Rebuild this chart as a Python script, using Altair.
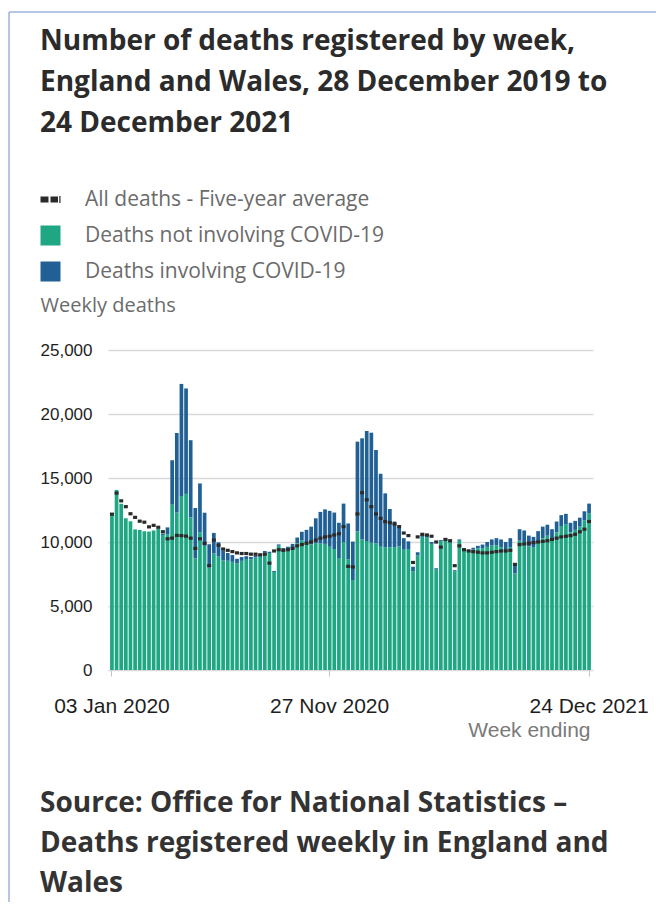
import altair as alt
import pandas as pd

# ---- data -----------------------------------------------------------------
week_ending = pd.date_range("2020-01-03", periods=104, freq="7D").strftime("%d %b %Y").tolist()

not_covid = [
    12254, 14058, 12990, 11856, 11612, 10986, 10944, 10841, 10816, 10895,
    11014, 10542, 10602, 12912, 12303, 13593, 13760, 11918, 8727, 10763,
    9699, 8002, 9121, 8862, 8556, 8534, 8447, 8324, 8528, 8674,
    8638, 8794, 8861, 9162, 9139, 7661, 9712, 9384, 9419, 9529,
    9912, 10130, 9972, 9821, 9913, 9884, 9853, 9630, 9450, 8750,
    10000, 8650, 7030, 10840, 10200, 10070, 9940, 9890, 9630, 9600,
    9580, 9600, 9650, 9400, 9450, 7720, 8950, 10400, 10380, 9850,
    7840, 10050, 10200, 9950, 7710, 10100, 9400, 9280, 9400, 9500,
    9520, 9620, 9720, 9750, 9600, 9350, 9600, 7550, 10100, 10000,
    9650, 9600, 10000, 10300, 10500, 10200, 10750, 11250, 11400, 10750,
    10950, 11200, 11700, 12250,
]

covid = [
    0, 0, 0, 0, 0, 0, 0, 0, 0, 0,
    5, 103, 539, 3475, 6213, 8758, 8237, 6035, 3930, 3810,
    2589, 1822, 1588, 1114, 783, 606, 532, 366, 295, 217,
    193, 152, 139, 138, 101, 78, 99, 139, 215, 321,
    438, 670, 978, 1379, 1937, 2466, 2697, 2800, 2850, 2750,
    3000, 2800, 3000, 7000, 7900, 8600, 8600, 7300, 5700, 4200,
    3000, 2000, 1500, 900, 600, 350, 250, 200, 170, 150,
    110, 100, 100, 100, 90, 100, 100, 120, 150, 200,
    280, 380, 480, 550, 600, 650, 700, 650, 900, 900,
    850, 800, 850, 900, 850, 800, 850, 850, 800, 750,
    700, 700, 700, 750,
]

five_year_avg = [
    12175, 13822, 13216, 12760, 12206, 11925, 11627, 11548, 11183, 11300,
    11150, 10800, 10250, 10305, 10520, 10497, 10458, 10300, 9500, 10250,
    9900, 8150, 10150, 9750, 9450, 9350, 9250, 9150, 9100, 9100,
    9050, 9050, 9000, 9050, 8350, 9300, 9400, 9350, 9400, 9500,
    9700, 9800, 9900, 10000, 10150, 10300, 10400, 10450, 10550, 10650,
    11200, 8100, 8050, 12190, 13850, 13300, 12760, 12190, 11850, 11590,
    11510, 11410, 11200, 10700, 10500, 8400, 10400, 10600, 10550, 10450,
    10000, 9600, 10200, 10100, 8150, 9700, 9400, 9300, 9250, 9200,
    9150, 9150, 9200, 9250, 9300, 9300, 9350, 8250, 9800, 9850,
    9900, 9950, 10000, 10050, 10100, 10200, 10300, 10400, 10450, 10500,
    10600, 10800, 11000, 11600,
]

label_not = "Deaths not involving COVID-19"
label_cov = "Deaths involving COVID-19"
label_avg = "All deaths - Five-year average"
x_ticks = ["03 Jan 2020", "27 Nov 2020", "24 Dec 2021"]
y_ticks = [0, 5000, 10000, 15000, 20000, 25000]

title_lines = [
    "Number of deaths registered by week,",
    "England and Wales, 28 December 2019 to",
    "24 December 2021",
]
source_lines = [
    "Source: Office for National Statistics \u2013",
    "Deaths registered weekly in England and",
    "Wales",
]

# ---- tables ----------------------------------------------------------------
bar_rows = []
for w, a, b in zip(week_ending, not_covid, covid):
    bar_rows.append({"week": w, "series": label_not, "deaths": a, "ord": 0})
    bar_rows.append({"week": w, "series": label_cov, "deaths": b, "ord": 1})
bar_df = pd.DataFrame(bar_rows)
avg_df = pd.DataFrame({"week": week_ending, "avg": five_year_avg, "label": label_avg})
title_df = pd.DataFrame({"t": ["\n".join(title_lines)]})
src_df = pd.DataFrame({"t": ["\n".join(source_lines)]})
one_df = pd.DataFrame({"a": [0]})

GREEN = "#1fa784"
BLUE = "#206095"
DARK = "#2a2a2a"
GREY_TXT = "#6b6b6b"
AX_FONT = "Liberation Sans"
TX_FONT = "Open Sans"

x_enc = alt.X(
    "week:N",
    sort=week_ending,
    scale=alt.Scale(paddingInner=0.2, paddingOuter=0.45),
    axis=alt.Axis(
        values=x_ticks,
        labelAngle=0,
        labelFont=AX_FONT,
        labelFontSize=21,
        labelColor="#1e1e1e",
        labelPadding=19,
        labelOverlap=False,
        labelFlush=False,
        ticks=True,
        tickSize=6,
        tickColor="#c4c4c4",
        domain=False,
        grid=False,
        title="Week ending",
        titleFont=AX_FONT,
        titleFontSize=21,
        titleFontWeight="normal",
        titleColor="#7a7a7a",
        titleX=482,
        titleY=60,
        titleAlign="right",
        titleBaseline="middle",
    ),
)

y_enc = alt.Y(
    "deaths:Q",
    stack="zero",
    scale=alt.Scale(domain=[0, 25000], nice=False),
    axis=alt.Axis(
        values=y_ticks,
        format=",.0f",
        labelFont=AX_FONT,
        labelFontSize=17,
        labelColor="#1e1e1e",
        labelPadding=16,
        ticks=False,
        domain=False,
        gridColor="#d9d9d9",
        gridWidth=1.5,
        title="Weekly deaths",
        titleAngle=0,
        titleX=-68,
        titleY=-45,
        titleAlign="left",
        titleBaseline="middle",
        titleFont=TX_FONT,
        titleFontSize=20,
        titleFontWeight="normal",
        titleColor=GREY_TXT,
    ),
)

bars = alt.Chart(bar_df).mark_bar().encode(
    x=x_enc,
    y=y_enc,
    color=alt.Color(
        "series:N",
        scale=alt.Scale(domain=[label_not, label_cov], range=[GREEN, BLUE]),
        legend=alt.Legend(
            orient="none",
            legendX=-68,
            legendY=-125,
            title=None,
            symbolType="square",
            symbolSize=400,
            symbolStrokeWidth=0,
            rowPadding=14,
            labelOffset=24,
            labelFont=TX_FONT,
            labelFontSize=21,
            labelColor=GREY_TXT,
            labelLimit=450,
        ),
    ),
    order=alt.Order("ord:Q", sort="ascending"),
)

dash_symbol = "M-1,-0.3H-0.2V0.3H-1Z M0,-0.3H0.75V0.3H0Z M0.88,-0.35H1V0.35H0.88Z"

avg = alt.Chart(avg_df).mark_point(
    filled=True, shape="M-1,-0.8H1V0.8H-1Z", size=16, opacity=1
).encode(
    x=alt.X("week:N", sort=week_ending),
    y=alt.Y("avg:Q"),
    color=alt.Color(
        "label:N",
        scale=alt.Scale(domain=[label_avg], range=[DARK]),
        legend=alt.Legend(
            orient="none",
            legendX=-68,
            legendY=-161,
            title=None,
            symbolType=dash_symbol,
            symbolSize=400,
            symbolStrokeWidth=0,
            labelOffset=24,
            labelFont=TX_FONT,
            labelFontSize=21,
            labelColor=GREY_TXT,
            labelLimit=450,
        ),
    ),
)

title = alt.Chart(title_df).mark_text(
    align="left",
    baseline="middle",
    lineBreak="\n",
    lineHeight=41,
    font=TX_FONT,
    fontSize=28,
    fontWeight="bold",
    color="#2b2b2b",
).encode(text="t:N", x=alt.value(-68), y=alt.value(-308))

source = alt.Chart(src_df).mark_text(
    align="left",
    baseline="middle",
    lineBreak="\n",
    lineHeight=40,
    font=TX_FONT,
    fontSize=28,
    fontWeight="bold",
    color="#333333",
).encode(text="t:N", x=alt.value(-68), y=alt.value(454))

frame_left = alt.Chart(one_df).mark_rule(color="#9db3e0", strokeWidth=1.5).encode(
    x=alt.value(-99), y=alt.value(-338), y2=alt.value(600)
)
frame_top = alt.Chart(one_df).mark_rule(color="#9db3e0", strokeWidth=1.5).encode(
    x=alt.value(-99), x2=alt.value(600), y=alt.value(-338)
)

chart = (
    alt.layer(bars, avg, title, source, frame_left, frame_top)
    .resolve_scale(color="independent")
    .properties(
        width=485,
        height=320,
        autosize=alt.AutoSizeParams(type="none"),
        padding={"left": 100, "top": 342, "right": 63, "bottom": 232},
        background="white",
    )
    .configure_view(strokeWidth=0)
)

chart.save("out.html", embed_options={"renderer": "svg", "actions": False})
